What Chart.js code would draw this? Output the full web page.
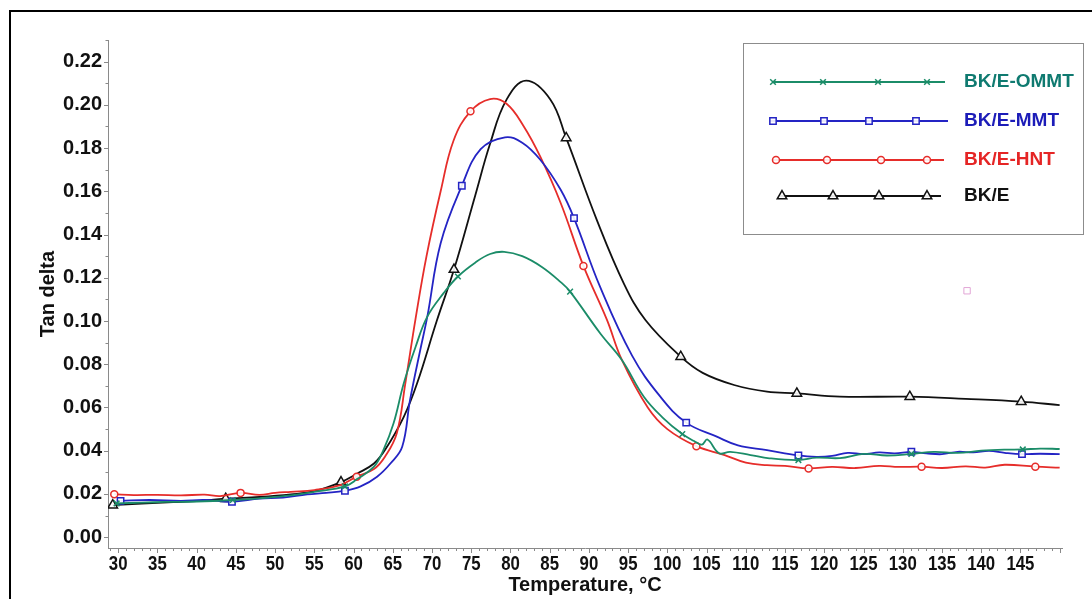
<!DOCTYPE html>
<html>
<head>
<meta charset="utf-8">
<script src="https://cdn.jsdelivr.net/npm/chart.js@4.4.1/dist/chart.umd.min.js"></script>
<style>
  html, body { margin: 0; padding: 0; background: #fff; }
  #wrap { width: 1092px; height: 599px; position: relative; }
</style>
</head>
<body>
<div id="wrap"><canvas id="tanChart" width="1092" height="599"></canvas></div>
<script>
// axis ticks
var xTicks = [30, 35, 40, 45, 50, 55, 60, 65, 70, 75, 80, 85, 90, 95, 100, 105, 110, 115, 120, 125, 130, 135, 140, 145];
var yTicks = [0, 0.02, 0.04, 0.06, 0.08, 0.10, 0.12, 0.14, 0.16, 0.18, 0.20, 0.22];

// BK/E (black)
var tempBKE = [29.3, 33, 37, 40, 43.7, 48, 52, 55, 58.4, 60.5, 62.6, 64, 66.4, 68.1, 70.6, 72.8, 75.5, 77.4, 79.5, 82, 85.1, 87.1, 91, 94.5, 97.2, 101.7, 104.5, 108.5, 112.7, 116.5, 122, 130.9, 138, 145.1, 150];
var tanBKE = [0.0148, 0.0155, 0.0162, 0.0167, 0.0178, 0.0186, 0.0198, 0.0213, 0.0255, 0.0295, 0.0341, 0.0403, 0.0557, 0.0712, 0.100, 0.1238, 0.158, 0.182, 0.2024, 0.2112, 0.2024, 0.1847, 0.1468, 0.117, 0.1005, 0.0835, 0.076, 0.0704, 0.0673, 0.0665, 0.065, 0.065, 0.064, 0.0627, 0.0611];
var markBKE = [29.3, 43.7, 58.4, 72.8, 87.1, 101.7, 116.5, 130.9, 145.1];

// BK/E-MMT (blue)
var tempMMT = [30.3, 34, 38, 41, 44.5, 48, 51, 54.1, 56.5, 58.9, 60.9, 63, 64.7, 66.2, 67.2, 68.5, 69.4, 71.1, 73.8, 76.2, 79.3, 81.5, 83.8, 86.4, 88.1, 91.4, 95.5, 99.1, 102.4, 106.3, 109, 112.7, 116.7, 119, 121, 123, 125, 127, 129, 131.1, 133, 135, 137, 139, 141, 143, 145.2, 147.5, 150];
var tanMMT = [0.0168, 0.0172, 0.0168, 0.0172, 0.0164, 0.0178, 0.0183, 0.0198, 0.0205, 0.0215, 0.0235, 0.028, 0.0341, 0.0418, 0.0635, 0.0866, 0.102, 0.136, 0.1626, 0.1795, 0.185, 0.1825, 0.1746, 0.1607, 0.1476, 0.116, 0.084, 0.065, 0.053, 0.0465, 0.0425, 0.0403, 0.0378, 0.0372, 0.0376, 0.039, 0.0384, 0.0392, 0.0388, 0.0395, 0.0388, 0.0384, 0.0395, 0.0392, 0.0399, 0.039, 0.0384, 0.0386, 0.0384];
var markMMT = [30.3, 44.5, 58.9, 73.8, 88.1, 102.4, 116.7, 131.1, 145.2];

// BK/E-HNT (red)
var tempHNT = [29.5, 32, 35, 38, 41, 43, 45.6, 48, 50, 52, 55, 58.3, 60.4, 62.6, 64, 65.5, 66.6, 67.9, 69.3, 71.1, 72.75, 74.9, 77.4, 79.5, 81.7, 83.8, 86.4, 89.3, 92.3, 94.2, 97.5, 100, 103.7, 107.3, 110, 112.7, 115, 118, 121, 124, 127, 129.5, 132.4, 135, 138, 140.5, 143, 146.9, 150];
var tanHNT = [0.0199, 0.0195, 0.0196, 0.0193, 0.0197, 0.019, 0.0205, 0.0196, 0.0205, 0.021, 0.0218, 0.0241, 0.028, 0.0315, 0.0372, 0.048, 0.0712, 0.101, 0.130, 0.160, 0.1835, 0.197, 0.2027, 0.2005, 0.190, 0.176, 0.1546, 0.1255, 0.1005, 0.082, 0.060, 0.050, 0.0421, 0.038, 0.0345, 0.0333, 0.033, 0.0318, 0.0325, 0.032, 0.033, 0.0325, 0.0326, 0.032, 0.0328, 0.0322, 0.0335, 0.0326, 0.0322];
var markHNT = [29.5, 45.6, 60.4, 74.9, 89.3, 103.7, 118, 132.4, 146.9];

// BK/E-OMMT (green)
var tempOMMT = [29.8, 33, 36, 40, 44.6, 48, 52, 55, 58.9, 60.5, 62.6, 63.8, 65.1, 66.4, 67.9, 69.4, 71.5, 73.3, 75.5, 77.4, 79.2, 81.5, 84, 86.4, 87.6, 91.5, 94.2, 97, 99.5, 101.9, 103.4, 104.4, 105.1, 106.6, 108, 110.6, 113, 116.7, 119, 122, 125, 128, 131.1, 134, 137, 140, 143, 145.3, 147.5, 150];
var tanOMMT = [0.0156, 0.016, 0.0163, 0.0165, 0.0172, 0.018, 0.0193, 0.021, 0.0235, 0.027, 0.0326, 0.0403, 0.0527, 0.0712, 0.088, 0.102, 0.113, 0.1206, 0.127, 0.131, 0.132, 0.130, 0.125, 0.118, 0.1136, 0.094, 0.082, 0.065, 0.055, 0.0477, 0.0445, 0.0428, 0.0452, 0.0388, 0.0395, 0.038, 0.0365, 0.0357, 0.0368, 0.0366, 0.0385, 0.0378, 0.0385, 0.0395, 0.039, 0.040, 0.0405, 0.0406, 0.041, 0.0408];
var markOMMT = [29.8, 44.6, 58.9, 73.3, 87.6, 101.9, 116.7, 131.1, 145.3];

// stray pink mark in the figure
var strayT = [138.2];
var strayV = [0.114];

function toPoints(xs, ys) {
  return xs.map(function (x, i) { return { x: x, y: ys[i] }; });
}

function markerRadius(marks, r) {
  return function (ctx) {
    return ctx.raw && marks.indexOf(ctx.raw.x) >= 0 ? r : 0;
  };
}

var series = [
  { label: 'BK/E-OMMT', t: tempOMMT, v: tanOMMT, m: markOMMT, color: '#1b8c68', text: '#0f7a70', style: 'crossRot', r: 4 },
  { label: 'BK/E-MMT', t: tempMMT, v: tanMMT, m: markMMT, color: '#2424c4', text: '#1c1cb8', style: 'rect', r: 4.5 },
  { label: 'BK/E-HNT', t: tempHNT, v: tanHNT, m: markHNT, color: '#e62d2a', text: '#e52525', style: 'circle', r: 3.5 },
  { label: 'BK/E', t: tempBKE, v: tanBKE, m: markBKE, color: '#111111', text: '#111111', style: 'triangle', r: 5.5 }
];

var datasets = series.map(function (s) {
  return {
    label: s.label,
    data: toPoints(s.t, s.v),
    borderColor: s.color,
    borderWidth: 1.8,
    backgroundColor: '#ffffff',
    pointStyle: s.style,
    pointRadius: markerRadius(s.m, s.r),
    pointBorderWidth: 1.5,
    pointBorderColor: s.color,
    pointBackgroundColor: 'rgba(255,255,255,0.9)',
    tension: 0.4,
    fill: false
  };
});

datasets.push({
  label: 'stray',
  data: toPoints(strayT, strayV),
  showLine: false,
  pointStyle: 'rect',
  pointRadius: 4.5,
  pointBorderWidth: 1,
  pointBorderColor: '#e2a6d6',
  pointBackgroundColor: 'rgba(255,255,255,0)'
});

var plainFont = '"Liberation Sans", Arial, sans-serif';

// minor ticks, narrow x labels, custom legend box and outer frame
var decorPlugin = {
  id: 'decor',
  afterDraw: function (chart) {
    var ctx = chart.ctx;
    var xs = chart.scales.x, ys = chart.scales.y;
    var area = chart.chartArea;
    ctx.save();
    ctx.strokeStyle = '#8a8a8a';
    ctx.lineWidth = 1;
    ctx.beginPath();
    for (var t = 29; t <= 150; t++) {
      var px = Math.round(xs.getPixelForValue(t)) + 0.5;
      var len = (t % 5 === 0) ? 5 : 3;
      ctx.moveTo(px, area.bottom);
      ctx.lineTo(px, area.bottom + len);
    }
    for (var k = 0; k <= 23; k++) {
      var py = Math.round(ys.getPixelForValue(k * 0.01)) + 0.5;
      var l2 = (k % 2 === 0) ? 4 : 2.5;
      ctx.moveTo(area.left, py);
      ctx.lineTo(area.left - l2, py);
    }
    ctx.stroke();

    // x tick labels, condensed like the original
    ctx.fillStyle = '#111';
    ctx.font = 'bold 21px ' + plainFont;
    ctx.textAlign = 'center';
    ctx.textBaseline = 'middle';
    xTicks.forEach(function (v) {
      ctx.save();
      ctx.translate(xs.getPixelForValue(v), area.bottom + 16);
      ctx.scale(0.8, 1);
      ctx.fillText(String(v), 0, 0);
      ctx.restore();
    });

    // legend box
    ctx.strokeStyle = '#8c8c8c';
    ctx.lineWidth = 1;
    ctx.strokeRect(743.5, 43.5, 340, 191);
    var rows = [82, 121, 160, 196];
    var markX = [
      [773, 823, 878, 927],
      [773, 824, 869, 916],
      [776, 827, 881, 927],
      [782, 833, 879, 927]
    ];
    var lineX = [[772, 945], [770, 948], [772, 944], [780, 941]];
    series.forEach(function (s, i) {
      var y = rows[i];
      ctx.strokeStyle = s.color;
      ctx.lineWidth = 1.8;
      ctx.beginPath();
      ctx.moveTo(lineX[i][0], y);
      ctx.lineTo(lineX[i][1], y);
      ctx.stroke();
      ctx.fillStyle = 'rgba(255,255,255,0.9)';
      ctx.lineWidth = 1.5;
      markX[i].forEach(function (mx) {
        Chart.helpers.drawPoint(ctx, { pointStyle: s.style, radius: s.r, rotation: 0, borderWidth: 1.5 }, mx, y);
      });
      ctx.fillStyle = s.text;
      ctx.font = 'bold 19px ' + plainFont;
      ctx.textBaseline = 'middle';
      ctx.textAlign = 'left';
      ctx.fillText(s.label, 964, y);
    });

    // outer frame
    ctx.strokeStyle = '#000';
    ctx.lineWidth = 2;
    ctx.beginPath();
    ctx.moveTo(10, 599);
    ctx.lineTo(10, 11);
    ctx.lineTo(1092, 11);
    ctx.stroke();
    ctx.restore();
  }
};

new Chart(document.getElementById('tanChart'), {
  type: 'line',
  data: { datasets: datasets },
  plugins: [decorPlugin],
  options: {
    responsive: false,
    animation: false,
    layout: { padding: { left: 32, top: 40, right: 30, bottom: 0 } },
    plugins: {
      legend: { display: false },
      tooltip: { enabled: false }
    },
    scales: {
      x: {
        type: 'linear',
        min: 28.7,
        max: 150.3,
        afterBuildTicks: function (scale) {
          scale.ticks = xTicks.map(function (v) { return { value: v }; });
        },
        afterFit: function (scale) { scale.height = 51; },
        grid: { display: true, drawOnChartArea: false, drawTicks: false },
        border: { display: true, color: '#8a8a8a', width: 1 },
        ticks: { display: false },
        title: {
          display: true,
          text: 'Temperature, \u00b0C',
          color: '#111',
          padding: { top: 0, bottom: 2 },
          font: { family: plainFont, size: 20, weight: 'bold' }
        }
      },
      y: {
        min: -0.005,
        max: 0.23,
        afterBuildTicks: function (scale) {
          scale.ticks = yTicks.map(function (v) { return { value: v }; });
        },
        afterFit: function (scale) { scale.width = 108 - 32; },
        grid: { display: true, drawOnChartArea: false, drawTicks: false },
        border: { display: true, color: '#8a8a8a', width: 1 },
        ticks: {
          padding: 6,
          color: '#111',
          font: { family: plainFont, size: 20, weight: 'bold' },
          callback: function (v) { return v.toFixed(2); }
        },
        title: {
          display: true,
          text: 'Tan delta',
          color: '#111',
          padding: { top: 4, bottom: 4 },
          font: { family: plainFont, size: 20, weight: 'bold' }
        }
      }
    }
  }
});
</script>
</body>
</html>
